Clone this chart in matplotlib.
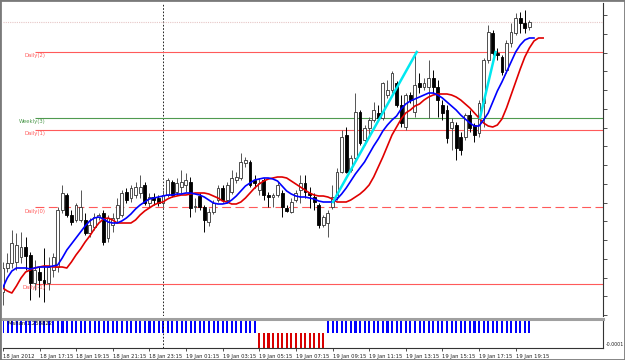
import numpy as np
import matplotlib
matplotlib.use('Agg')
import matplotlib.pyplot as plt
from matplotlib.patches import Rectangle

# 15 minute candles, 18 Jan 15:15 .. 19 Jan 19:45 (price in chart units)
opens = [24, 48, 53, 54, 59, 69, 61, 33, 44, 36, 33, 46, 49, 106, 121, 101, 96, 96, 96, 83,
         89, 99, 103, 78, 91, 98, 101, 124, 118, 121, 123, 131, 113, 119, 118, 113, 121, 134, 124, 129,
         131, 134, 109, 120, 109, 94, 104, 116, 128, 116, 124, 136, 138, 153, 154, 136, 126, 136, 121, 119,
         121, 123, 108, 104, 116, 126, 133, 123, 119, 111, 91, 93, 109, 119, 144, 181, 146, 158, 204, 176,
         188, 196, 203, 198, 221, 226, 233, 211, 189, 221, 204, 233, 229, 229, 238, 229, 211, 206, 188, 191,
         179, 179, 201, 191, 183, 213, 256, 283, 263, 259, 246, 273, 283, 298, 293, 289]
highs = [54, 63, 86, 83, 84, 79, 64, 56, 49, 68, 59, 63, 109, 131, 123, 106, 113, 126, 103, 98,
         103, 103, 106, 101, 103, 118, 126, 128, 131, 134, 141, 134, 123, 123, 121, 126, 138, 136, 138, 146,
         143, 139, 118, 123, 111, 108, 116, 131, 131, 134, 146, 144, 163, 159, 156, 141, 138, 138, 124, 123,
         134, 126, 111, 118, 126, 141, 141, 129, 123, 113, 101, 106, 131, 148, 186, 189, 161, 223, 206, 191,
         199, 214, 211, 234, 236, 245, 235, 221, 223, 224, 261, 243, 238, 256, 246, 236, 216, 211, 198, 194,
         184, 203, 206, 193, 216, 258, 291, 286, 268, 261, 276, 293, 303, 304, 306, 296]
lows = [11, 44, 48, 46, 53, 46, 16, 26, 19, 14, 26, 39, 44, 103, 99, 91, 94, 94, 81, 79,
        86, 96, 71, 74, 84, 94, 99, 113, 114, 118, 118, 111, 109, 111, 110, 109, 119, 119, 121, 123,
        124, 99, 104, 106, 84, 90, 102, 114, 114, 113, 122, 133, 136, 149, 129, 128, 121, 116, 109, 109,
        119, 99, 104, 103, 114, 113, 118, 108, 106, 88, 89, 79, 107, 116, 143, 143, 144, 156, 171, 171,
        179, 194, 196, 196, 218, 223, 209, 189, 186, 213, 199, 223, 226, 198, 223, 199, 196, 173, 166, 156,
        161, 176, 184, 174, 179, 189, 253, 261, 256, 241, 243, 269, 281, 283, 283, 286]
closes = [48, 53, 73, 71, 69, 60, 33, 46, 36, 33, 49, 59, 106, 123, 101, 94, 111, 109, 83, 91,
          99, 101, 74, 98, 98, 111, 123, 116, 128, 129, 129, 113, 119, 116, 113, 121, 136, 121, 133, 134,
          136, 108, 110, 109, 96, 104, 113, 128, 116, 131, 138, 139, 154, 156, 131, 133, 133, 121, 119, 121,
          131, 109, 105, 114, 123, 133, 124, 121, 114, 91, 99, 103, 119, 144, 179, 144, 158, 204, 173, 188,
          196, 206, 198, 233, 226, 243, 211, 193, 221, 216, 231, 229, 233, 238, 229, 216, 203, 178, 194, 168,
          166, 201, 188, 181, 213, 256, 284, 263, 261, 244, 273, 284, 298, 293, 288, 294]

# moving averages (blue = fast, red = slow, shifted forward)
fast_ma = [28, 38, 45, 48, 48, 48, 47, 48, 49, 49, 49, 50, 51, 58, 66, 72, 78, 84, 90, 95,
           98, 99, 97, 94, 93, 93, 95, 98, 102, 107, 111, 114, 117, 118, 119, 120, 121, 121, 122, 122,
           123, 123, 122, 121, 119, 116, 113, 112, 112, 113, 116, 120, 125, 130, 133, 136, 137, 138, 138, 137,
           135, 130, 125, 122, 120, 119, 119, 118, 117, 115, 114, 114, 114, 117, 122, 128, 135, 142, 148, 154,
           162, 170, 177, 185, 191, 196, 200, 207, 212, 215, 217, 219, 221, 223, 223, 221, 218, 214, 210, 206,
           201, 197, 193, 190, 190, 196, 203, 214, 225, 234, 244, 254, 264, 271, 276, 278, 278]
slow_ma = [28, 25, 23, 30, 38, 44, 46, 48, 49, 50, 50, 49, 49, 49, 48, 54, 61, 67, 74, 80,
           87, 93, 97, 98, 96, 93, 93, 93, 93, 96, 101, 105, 108, 111, 113, 114, 117, 119, 120, 121,
           121, 122, 123, 123, 123, 122, 120, 118, 115, 114, 112, 112, 114, 118, 123, 128, 132, 135, 137, 138,
           139, 139, 138, 135, 132, 129, 126, 123, 121, 120, 120, 119, 117, 114, 114, 114, 116, 119, 122, 126,
           131, 139, 149, 159, 170, 181, 189, 197, 203, 206, 210, 212, 216, 219, 221, 222, 222, 222, 221, 219,
           216, 212, 208, 203, 198, 193, 190, 189, 191, 197, 208, 221, 234, 247, 259, 268, 275, 278, 278]

# lower pane trend histogram
trend = [1] * 56 + [-1] * 15 + [1] * 45

# pivot levels
level_values = [264, 198, 186, 109, 32]
level_names = ['Daily(2)', 'Weekly(3)', 'Daily(1)', 'Daily(0)', 'Daily(-1)']
level_colors = ['#ff5a5a', '#4f9a4f', '#ff5a5a', '#ff5a5a', '#ff5a5a']
level_styles = ['-', '-', '-', (0, (8, 4)), '-']
top_dotted = 294

# hand drawn cyan trend lines (bar, price)
cyan_x = [[72.1, 90.4], [104.2, 107.6]]
cyan_y = [[114, 264], [198, 264]]

time_labels = ['18 Jan 2012', '18 Jan 17:15', '18 Jan 19:15', '18 Jan 21:15', '18 Jan 23:15',
               '19 Jan 01:15', '19 Jan 03:15', '19 Jan 05:15', '19 Jan 07:15', '19 Jan 09:15',
               '19 Jan 11:15', '19 Jan 13:15', '19 Jan 15:15', '19 Jan 17:15', '19 Jan 19:15']

o = np.array(opens, float)
h = np.array(highs, float)
l = np.array(lows, float)
c = np.array(closes, float)
x = np.arange(len(o))
up = c >= o

fig = plt.figure(figsize=(6.25, 3.6), dpi=100)
ax = fig.add_axes([3 / 625, 44 / 360, 600 / 625, 313 / 360])
ax2 = fig.add_axes([3 / 625, 12 / 360, 600 / 625, 29 / 360])
xmin, xmax = 0.065, 131.07

# levels
ax.hlines(top_dotted, xmin, xmax, color='#e6c6c6', lw=0.8, linestyle=(0, (1, 1)))
for v, name, col, ls in zip(level_values, level_names, level_colors, level_styles):
    ax.hlines(v, 7.0, xmax, color=col, lw=0.8, linestyle=ls)
    ax.text(9.4, v - 4, name, ha='right', va='center', fontsize=3.8, color=col, zorder=6)

# candles
ax.vlines(x[up], l[up], h[up], color='#555555', lw=0.7, zorder=2)
ax.vlines(x[~up], l[~up], h[~up], color='black', lw=0.7, zorder=2)
body = np.maximum(np.abs(c - o), 0.8)
bottom = np.minimum(o, c)
ax.bar(x[up], body[up], bottom=bottom[up], width=0.62, facecolor='white',
       edgecolor='#333333', lw=0.6, zorder=3)
ax.bar(x[~up], body[~up], bottom=bottom[~up], width=0.62, facecolor='black',
       edgecolor='black', lw=0.6, zorder=3)

ax.plot(np.arange(len(slow_ma)), slow_ma, color='#e00000', lw=1.2, zorder=4)
ax.plot(np.arange(len(fast_ma)), fast_ma, color='#0000ff', lw=1.2, zorder=4)
for cx, cy in zip(cyan_x, cyan_y):
    ax.plot(cx, cy, color='#00e8f0', lw=1.8, zorder=5)

ax.axvline(35, color='black', lw=0.6, linestyle=(0, (2, 2)), zorder=1)
ax.set_xlim(xmin, xmax)
ax.set_ylim(0, 313)
ax.set_xticks([])
ax.yaxis.tick_right()
ax.set_yticks(np.arange(301, 0, -18.75))
ax.set_yticklabels([])
ax.tick_params(axis='y', length=3, width=0.6, color='#333333')
for s in ['left', 'top', 'bottom']:
    ax.spines[s].set_visible(False)
ax.spines['right'].set_color('#333333')
ax.spines['right'].set_linewidth(0.8)

# lower pane
tr = np.array(trend)
ax2.bar(x[tr > 0], tr[tr > 0], width=0.45, color='#0000ff')
ax2.bar(x[tr < 0], tr[tr < 0], width=0.45, color='#d80000')
ax2.axvline(35, color='black', lw=0.6, linestyle=(0, (2, 2)))
ax2.text(1.0, 0.62, 'Mshan 1.258822', fontsize=3.8, color='#111111', va='center')
ax2.text(xmax + 0.5, -0.75, '-0.0001', fontsize=3.4, color='#222222', va='center', clip_on=False)
ax2.set_xlim(xmin, xmax)
ax2.set_ylim(-1.0, 0.93)
ax2.set_yticks([])
ax2.set_xticks(np.arange(0, len(o), 8))
ax2.set_xticklabels(time_labels, fontsize=3.8, color='#222222')
for t in ax2.get_xticklabels():
    t.set_horizontalalignment('left')
ax2.tick_params(axis='x', length=2.5, width=0.6, pad=1.5, color='#333333')
ax2.spines['left'].set_visible(False)
ax2.spines['top'].set_color('#a0a0a0')
ax2.spines['top'].set_linewidth(2.2)
ax2.spines['bottom'].set_color('#333333')
ax2.spines['bottom'].set_linewidth(0.8)
ax2.spines['right'].set_color('#333333')
ax2.spines['right'].set_linewidth(0.8)

fig.add_artist(Rectangle((0, 0), 1, 1, transform=fig.transFigure, fill=False,
                         edgecolor='#7a7a7a', lw=2.0))
fig.savefig('out.png', dpi=100)
